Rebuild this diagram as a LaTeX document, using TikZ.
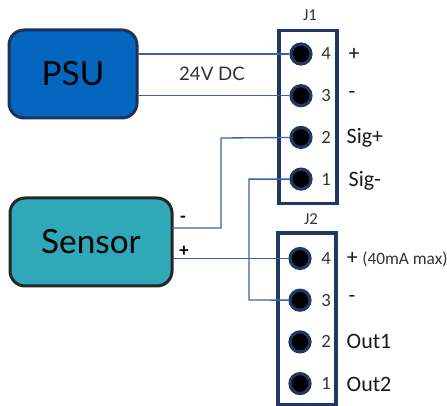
\documentclass[tikz,border=0pt]{standalone}
\usepackage{fontspec}
\setmainfont{Carlito}
\newfontfamily\blockfont{Lato}
\definecolor{navy}{HTML}{1F3864}
\definecolor{wirecol}{HTML}{3A62A8}
\definecolor{psucol}{HTML}{0566BF}
\definecolor{sensorcol}{HTML}{2FA8B8}
\tikzset{
    block/.style={draw, rounded corners=15*0.75pt, line width=2.25pt, inner sep=0pt, font=\blockfont\fontsize{25}{25}\selectfont},
    header/.style={draw=navy, line width=2.4pt, inner sep=0pt},
    pin/.style={circle, draw=navy, fill=black, line width=2.4pt, minimum size=15pt, inner sep=0pt},
    wire/.style={draw=wirecol, line width=1pt},
    pinnum/.style={font=\fontsize{14}{14}\selectfont, text=black!80},
    pinlabel/.style={font=\fontsize{16.5}{16.5}\selectfont, text=black!90, anchor=west},
    headername/.style={font=\fontsize{12.5}{12.5}\selectfont, text=black!80},
}
\begin{document}
\begin{tikzpicture}[x=0.75pt, y=-0.75pt]
        \useasboundingbox (0,0) rectangle (447,406);
        \def \pitch {41.7}

        \node[block, fill=psucol, draw=navy!90!black, minimum width=96pt, minimum height=66pt] (psu) at (73,74) {PSU};
        \node[block, fill=sensorcol, draw=black!85, minimum width=121.5pt, minimum height=66pt] (sensor) at (91,242) {Sensor};

        \node[header, minimum width=43.5pt, minimum height=130pt] (j1) at (308,117) {};
        \node[header, minimum width=43.5pt, minimum height=129pt] (j2) at (307,319) {};
        \node[headername] (j1name) at (310,15) {J1};
        \node[headername] (j2name) at (311,219) {J2};

        % pins of both headers, numbered from the top
        \foreach[count=\s] \v in {4,3,2,1}
        {
        \node[pin] (a\v) at (301, {54 + \pitch * (\s - 1)}) {};
        \node[pinnum] (anum\v) at (326, {54 + \pitch * (\s - 1)}) {\v};
        \node[pin] (b\v) at (300, {258.5 + \pitch * (\s - 1)}) {};
        \node[pinnum] (bnum\v) at (326, {258.5 + \pitch * (\s - 1)}) {\v};
        }

        % pin names
        \node[pinlabel] (aplus) at (344,54) {+};
        \node[pinlabel] (aminus) at (344,95) {-};
        \node[pinlabel] (asigp) at (342,138) {Sig+};
        \node[pinlabel] (asigm) at (344,181) {Sig-};
        \node[pinlabel, inner sep=0pt] (bplus) at (346.5,258) {+};
        \node[font=\fontsize{13}{13}\selectfont, text=black!80, anchor=west, inner sep=0pt] (bmax) at (362,259) {(40mA max)};
        \node[pinlabel] (bminus) at (344,299) {-};
        \node[pinlabel] (bout1) at (342,341) {Out1};
        \node[pinlabel] (bout2) at (342,384) {Out2};

        \node[font=\blockfont\fontsize{14}{14}\selectfont, text=black!80] (volts) at (212,74) {24V DC};
        \node[font=\fontsize{14}{14}\selectfont\bfseries] (sminus) at (183,219) {-};
        \node[font=\fontsize{14}{14}\selectfont\bfseries] (splus) at (184,251) {+};

        \coordinate (sensorminus) at (172,228);
        \coordinate (bendA) at (221,138);
        \coordinate (bendB) at (249,300);

        \draw[wire] (psu.east |- a4) -- (a4);
        \draw[wire] (psu.east |- a3) -- (a3);
        \draw[wire] (sensorminus) -| (bendA) -- (a2);
        \draw[wire] (sensor.east |- b4) -- (b4);
        \draw[wire] (a1) -| (bendB) -- (b3);
    \end{tikzpicture}
\end{document}
